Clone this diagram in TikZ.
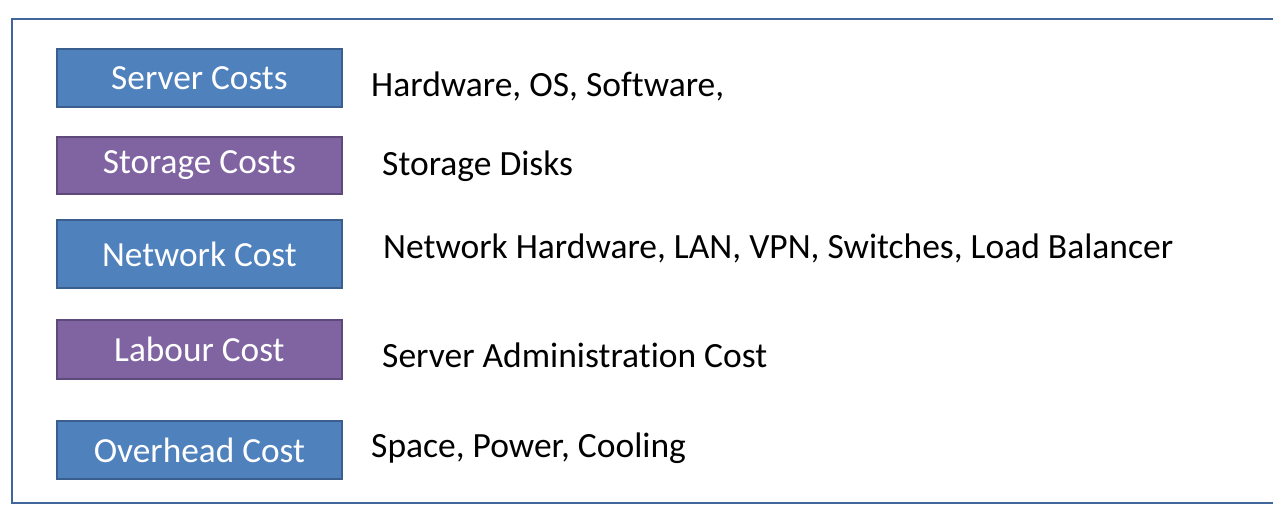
\documentclass[tikz,border=0pt]{standalone}
\usepackage{fontspec}
\setmainfont[Ligatures=NoCommon]{Carlito}
\definecolor{boxblue}{HTML}{4F81BD}
\definecolor{boxblueline}{HTML}{3A5F8F}
\definecolor{boxpurple}{HTML}{8064A2}
\definecolor{boxpurpleline}{HTML}{5E4A7A}
\definecolor{frameline}{HTML}{41669B}
\tikzset{
  costbox/.style={draw, line width=1.8pt, minimum width=285pt, anchor=north west, inner sep=0pt,
    text=white, font=\fontsize{35.3}{40}\selectfont},
  bluebox/.style={costbox, fill=boxblue, draw=boxblueline},
  purplebox/.style={costbox, fill=boxpurple, draw=boxpurpleline},
  desc/.style={anchor=base west, inner sep=0pt, text=black, font=\fontsize{35.5}{40}\selectfont},
}
\begin{document}
\begin{tikzpicture}[x=1pt,y=-1pt]
\useasboundingbox (0,0) rectangle (1273,512);
\fill[white] (0,0) rectangle (1273,512);
\draw[frameline, line width=2pt] (1290,19) -- (12,19) -- (12,503) -- (1290,503);
\node[bluebox, minimum height=58pt] (server) at (56,48) {Server Costs};
\node[purplebox, minimum height=57pt] (storage) at (56,136) {Storage Costs};
\node[bluebox, minimum height=68pt] (network) at (56,219) {Network Cost};
\node[purplebox, minimum height=59pt] (labour) at (56,319) {Labour Cost};
\node[bluebox, minimum height=58pt] (overhead) at (56,420) {Overhead Cost};
\node[desc] (d1) at (371,96) {Hardware, OS, Software,};
\node[desc] (d2) at (382,175) {Storage Disks};
\node[desc] (d3) at (383,258) {Network Hardware, LAN, VPN, Switches, Load Balancer};
\node[desc] (d4) at (382,367) {Server Administration Cost};
\node[desc] (d5) at (371,457) {Space, Power, Cooling};
\end{tikzpicture}
\end{document}
